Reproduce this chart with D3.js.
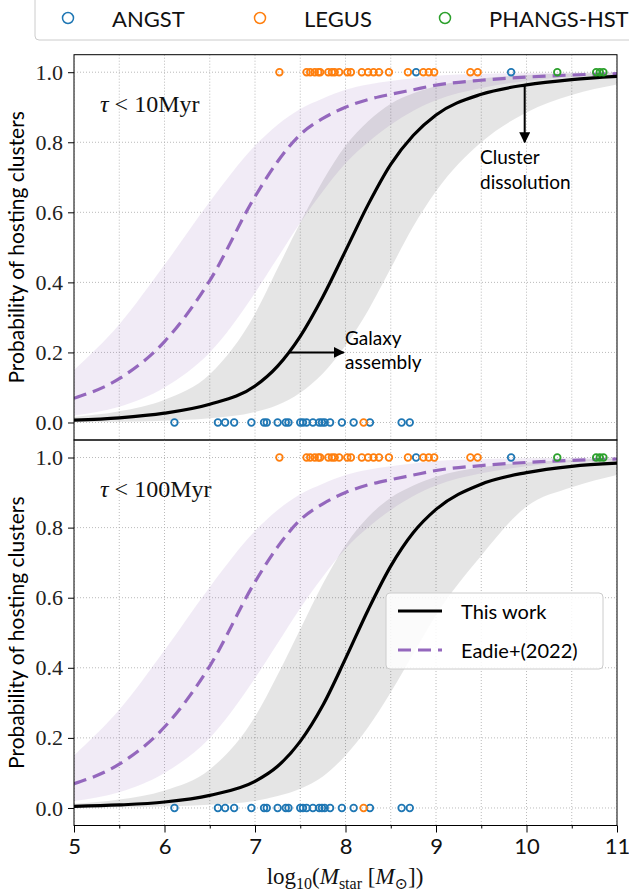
<!DOCTYPE html>
<html>
<head>
<meta charset="utf-8">
<script src="https://cdn.jsdelivr.net/npm/d3@7"></script>
<style>
  body { margin: 0; background: #fff; }
  svg { display: block; }
</style>
</head>
<body>
<div id="chart"></div>
<script>
// model curves at these masses
const massGrid = [5, 5.5, 6, 6.5, 7, 7.25, 7.5, 7.75, 8, 8.25, 8.5, 8.75, 9, 9.5, 10, 10.5, 11];

const eadieMid = [0.069, 0.125, 0.231, 0.405, 0.645, 0.745, 0.822, 0.868, 0.90, 0.922, 0.937, 0.95, 0.963, 0.977, 0.986, 0.992, 0.996];
const eadieHi  = [0.15, 0.28, 0.45, 0.63, 0.79, 0.85, 0.895, 0.925, 0.95, 0.965, 0.975, 0.983, 0.99, 0.995, 0.998, 0.999, 1.0];
const eadieLo  = [0.02, 0.045, 0.10, 0.20, 0.37, 0.47, 0.57, 0.66, 0.74, 0.80, 0.85, 0.89, 0.92, 0.955, 0.975, 0.987, 0.993];

const work10Mid = [0.0067, 0.0134, 0.0266, 0.052, 0.104, 0.161, 0.246, 0.359, 0.49, 0.622, 0.737, 0.82, 0.878, 0.937, 0.964, 0.979, 0.988];
const work10Hi  = [0.016, 0.032, 0.065, 0.138, 0.31, 0.44, 0.57, 0.69, 0.79, 0.86, 0.91, 0.94, 0.96, 0.982, 0.992, 0.996, 0.998];
const work10Lo  = [0.001, 0.002, 0.005, 0.012, 0.03, 0.05, 0.085, 0.14, 0.22, 0.32, 0.44, 0.56, 0.66, 0.80, 0.885, 0.935, 0.965];

const work100Mid = [0.0045, 0.0086, 0.017, 0.036, 0.076, 0.119, 0.19, 0.293, 0.426, 0.565, 0.69, 0.786, 0.852, 0.924, 0.957, 0.975, 0.984];
const work100Hi  = [0.012, 0.024, 0.05, 0.11, 0.26, 0.38, 0.51, 0.64, 0.75, 0.83, 0.885, 0.92, 0.945, 0.972, 0.986, 0.993, 0.997];
const work100Lo  = [0.001, 0.002, 0.004, 0.009, 0.02, 0.034, 0.055, 0.09, 0.15, 0.23, 0.33, 0.44, 0.55, 0.72, 0.86, 0.915, 0.95];

// galaxies: log10 stellar mass, by survey and hosting flag
const angstHost = [8.78, 9.83];
const angstNone = [6.11, 6.59, 6.67, 6.77, 6.96, 7.10, 7.13, 7.25, 7.34, 7.37, 7.50, 7.53, 7.57,
                   7.64, 7.71, 7.74, 7.77, 7.83, 7.96, 8.09, 8.27, 8.62, 8.71];
const legusHost = [7.27, 7.57, 7.61, 7.66, 7.70, 7.72, 7.81, 7.85, 7.88, 7.93, 8.02, 8.06, 8.18,
                   8.25, 8.31, 8.37, 8.48, 8.69, 8.86, 8.92, 8.98, 9.38, 9.46];
const legusNone = [8.20];
const phangsHost = [10.34, 10.77, 10.81, 10.85];

const xTicks = [5, 6, 7, 8, 9, 10, 11];
const yTicks = [0, 0.2, 0.4, 0.6, 0.8, 1.0];

const C_ANGST = "#1f77b4", C_LEGUS = "#ff7f0e", C_PHANGS = "#2ca02c", C_EADIE = "#9467bd";
const SANS = "Lato, 'DejaVu Sans', sans-serif";
const SERIF = "'Liberation Serif', 'DejaVu Serif', serif";

const W = 629, H = 892;
const svg = d3.select("#chart").append("svg").attr("width", W).attr("height", H);

const defs = svg.append("defs");
defs.append("marker").attr("id", "arr")
  .attr("viewBox", "0 0 10 10").attr("refX", 9).attr("refY", 5)
  .attr("markerWidth", 5.5).attr("markerHeight", 5.5).attr("orient", "auto")
  .append("path").attr("d", "M0,0 L10,5 L0,10 z").attr("fill", "#000");

const x = d3.scaleLinear().domain([5, 11]).range([74, 617]);

const panels = [
  {top: 54.7, bottom: 440, tag: "10Myr", mid: work10Mid, hi: work10Hi, lo: work10Lo},
  {top: 440, bottom: 825.5, tag: "100Myr", mid: work100Mid, hi: work100Hi, lo: work100Lo}
];

panels.forEach((p, i) => {
  const y = d3.scaleLinear().domain([-0.05, 1.05]).range([p.bottom, p.top]);
  const g = svg.append("g");
  const clipId = "clip" + i;
  defs.append("clipPath").attr("id", clipId).append("rect")
    .attr("x", x(5)).attr("y", p.top).attr("width", x(11) - x(5)).attr("height", p.bottom - p.top);
  const plot = g.append("g").attr("clip-path", `url(#${clipId})`);

  // grid
  plot.selectAll(".gx").data(d3.range(5, 11.01, 0.5)).enter().append("line")
    .attr("x1", d => x(d)).attr("x2", d => x(d)).attr("y1", p.top).attr("y2", p.bottom)
    .attr("stroke", "#a8a8a8").attr("stroke-width", 0.8).attr("stroke-dasharray", "1,2");
  plot.selectAll(".gy").data(yTicks).enter().append("line")
    .attr("x1", x(5)).attr("x2", x(11)).attr("y1", d => y(d)).attr("y2", d => y(d))
    .attr("stroke", "#a8a8a8").attr("stroke-width", 0.8).attr("stroke-dasharray", "1,2");

  const area = (lo, hi) => d3.area().curve(d3.curveMonotoneX)
    .x((d, j) => x(massGrid[j])).y0((d, j) => y(lo[j])).y1((d, j) => y(hi[j]))(massGrid);
  const line = vals => d3.line().curve(d3.curveMonotoneX)
    .x((d, j) => x(massGrid[j])).y((d, j) => y(vals[j]))(massGrid);

  plot.append("path").attr("d", area(eadieLo, eadieHi)).attr("fill", C_EADIE).attr("fill-opacity", 0.13);
  plot.append("path").attr("d", area(p.lo, p.hi)).attr("fill", "#000").attr("fill-opacity", 0.1);
  plot.append("path").attr("d", line(eadieMid)).attr("fill", "none").attr("stroke", C_EADIE)
    .attr("stroke-width", 3.2).attr("stroke-dasharray", "13,7");
  plot.append("path").attr("d", line(p.mid)).attr("fill", "none").attr("stroke", "#000")
    .attr("stroke-width", 3.2);

  const pts = [
    [angstHost, 1, C_ANGST], [angstNone, 0, C_ANGST],
    [legusHost, 1, C_LEGUS], [legusNone, 0, C_LEGUS],
    [phangsHost, 1, C_PHANGS]
  ];
  pts.forEach(([arr, v, col]) => {
    g.selectAll(null).data(arr).enter().append("circle")
      .attr("cx", d => x(d)).attr("cy", y(v)).attr("r", 3.3)
      .attr("fill", "none").attr("stroke", col).attr("stroke-width", 1.8);
  });

  // frame
  g.append("rect").attr("x", x(5)).attr("y", p.top).attr("width", x(11) - x(5)).attr("height", p.bottom - p.top)
    .attr("fill", "none").attr("stroke", "#000").attr("stroke-width", 1);

  // y axis
  const ya = g.append("g").attr("transform", `translate(${x(5)},0)`)
    .call(d3.axisLeft(y).tickValues(yTicks).tickFormat(d3.format(".1f")).tickSize(6).tickPadding(5));
  ya.select(".domain").remove();
  ya.selectAll("text").attr("font-family", SERIF).attr("font-size", 22).attr("fill", "#222");
  ya.selectAll("line").attr("stroke", "#000");

  g.append("text")
    .attr("transform", `translate(24,${(p.top + p.bottom) / 2}) rotate(-90)`)
    .attr("text-anchor", "middle").attr("font-family", SANS).attr("font-size", 21)
    .text("Probability of hosting clusters");

  const tag = g.append("text").attr("x", 100).attr("y", p.top + 57)
    .attr("font-family", SERIF).attr("font-size", 24).attr("fill", "#111");
  tag.append("tspan").attr("font-style", "italic").text("τ");
  tag.append("tspan").text(" < " + p.tag);

  if (i === 1) {
    const xa = g.append("g").attr("transform", `translate(0,${p.bottom})`)
      .call(d3.axisBottom(x).tickValues(xTicks).tickFormat(d3.format("d")).tickSize(7).tickPadding(6));
    xa.select(".domain").remove();
    xa.selectAll("text").attr("font-family", SANS).attr("font-size", 22).attr("fill", "#111");
    g.append("g").attr("transform", `translate(0,${p.bottom})`)
      .call(d3.axisBottom(x).tickValues(d3.range(5.5, 11, 1)).tickFormat("").tickSize(3))
      .select(".domain").remove();
  }
});

// annotations on the top panel
const yTop = d3.scaleLinear().domain([-0.05, 1.05]).range([440, 54.7]);
svg.append("line").attr("x1", x(9.98)).attr("x2", x(9.98)).attr("y1", yTop(0.965)).attr("y2", yTop(0.8))
  .attr("stroke", "#000").attr("stroke-width", 2).attr("marker-end", "url(#arr)");
const cd = svg.append("text").attr("font-family", SANS).attr("font-size", 19).attr("fill", "#000");
cd.append("tspan").attr("x", 480).attr("y", 164).text("Cluster");
cd.append("tspan").attr("x", 480).attr("y", 189).text("dissolution");

svg.append("line").attr("x1", x(7.38)).attr("x2", x(7.98)).attr("y1", yTop(0.2)).attr("y2", yTop(0.2))
  .attr("stroke", "#000").attr("stroke-width", 2).attr("marker-end", "url(#arr)");
const ga = svg.append("text").attr("font-family", SANS).attr("font-size", 19).attr("fill", "#000");
ga.append("tspan").attr("x", 345).attr("y", 345).text("Galaxy");
ga.append("tspan").attr("x", 345).attr("y", 369).text("assembly");

// x label
const xl = svg.append("text").attr("x", 345).attr("y", 884).attr("text-anchor", "middle")
  .attr("font-family", SERIF).attr("font-size", 23).attr("fill", "#111");
xl.append("tspan").text("log");
xl.append("tspan").attr("font-size", 16).attr("dy", 5).text("10");
xl.append("tspan").attr("dy", -5).text("(");
xl.append("tspan").attr("font-style", "italic").text("M");
xl.append("tspan").attr("font-size", 16).attr("dy", 5).text("star");
xl.append("tspan").attr("dy", -5).text(" [");
xl.append("tspan").attr("font-style", "italic").text("M");
xl.append("tspan").attr("font-size", 16).attr("dy", 5).text("⊙");
xl.append("tspan").attr("dy", -5).text("])");

// top legend
const surveys = ["ANGST", "LEGUS", "PHANGS-HST"];
const surveyColors = [C_ANGST, C_LEGUS, C_PHANGS];
const surveyX = [68, 260, 445];
svg.append("rect").attr("x", 35).attr("y", -6).attr("width", 610).attr("height", 46).attr("rx", 4)
  .attr("fill", "#fff").attr("stroke", "#ccc").attr("stroke-width", 1);
surveys.forEach((s, i) => {
  svg.append("circle").attr("cx", surveyX[i]).attr("cy", 18).attr("r", 5.5)
    .attr("fill", "none").attr("stroke", surveyColors[i]).attr("stroke-width", 1.5);
  svg.append("text").attr("x", surveyX[i] + 44).attr("y", 27).attr("font-family", SANS)
    .attr("font-size", 22).attr("fill", "#111").text(s);
});

// curve legend in lower panel
const lg = svg.append("g");
lg.append("rect").attr("x", 386).attr("y", 593).attr("width", 217).attr("height", 76).attr("rx", 4)
  .attr("fill", "#fff").attr("fill-opacity", 0.85).attr("stroke", "#ccc");
lg.append("line").attr("x1", 398).attr("x2", 442).attr("y1", 611).attr("y2", 611)
  .attr("stroke", "#000").attr("stroke-width", 3.2);
lg.append("line").attr("x1", 398).attr("x2", 442).attr("y1", 650).attr("y2", 650)
  .attr("stroke", C_EADIE).attr("stroke-width", 3.2).attr("stroke-dasharray", "13,7");
lg.append("text").attr("x", 461).attr("y", 619).attr("font-family", SANS).attr("font-size", 20).text("This work");
lg.append("text").attr("x", 461).attr("y", 658).attr("font-family", SANS).attr("font-size", 20).text("Eadie+(2022)");
</script>
</body>
</html>
